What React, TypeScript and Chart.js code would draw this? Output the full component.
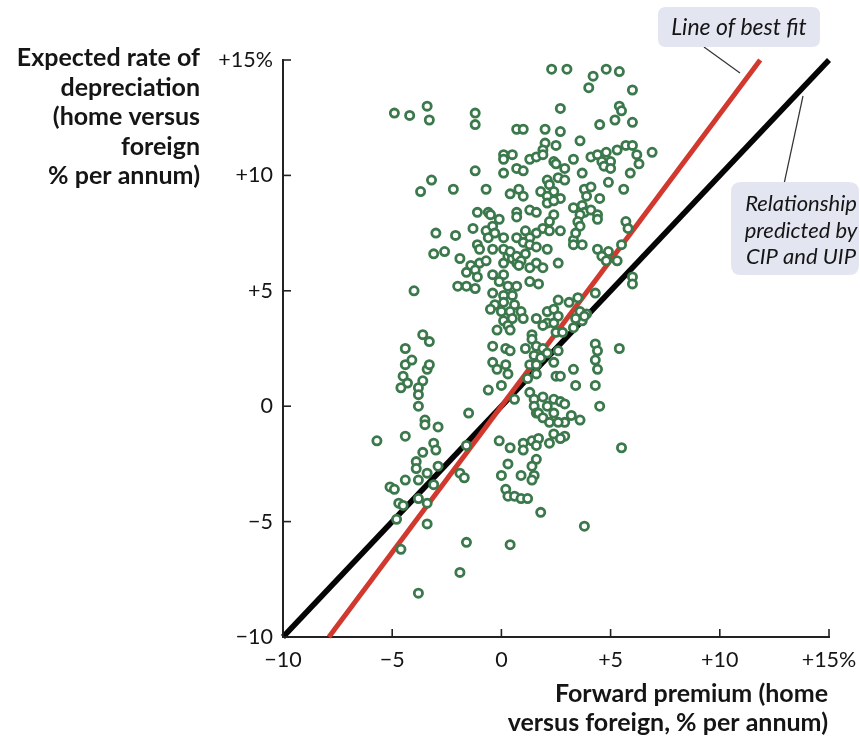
import { useEffect, useRef } from "react";
import { Chart, registerables } from "chart.js";

Chart.register(...registerables);

// ---------- data ----------
const tickValues = [-10, -5, 0, 5, 10, 15];
const xTickLabels = ["−10", "−5", "0", "+5", "+10", "+15%"];
const yTickLabels = ["−10", "−5", "0", "+5", "+10", "+15%"];
const yTitleLines = ["Expected rate of", "depreciation", "(home versus", "foreign", "% per annum)"];
const xTitleLines = ["Forward premium (home", "versus foreign, % per annum)"];
const bestFitLabel = "Line of best fit";
const parityLabelLines = ["Relationship", "predicted by", "CIP and UIP"];

// line of best fit and the CIP/UIP 45-degree relationship
const bestFitX = [-7.9, 11.85];
const bestFitY = [-10, 15];
const parityX = [-10, 15];
const parityY = [-10, 15];

// observations: [forward premium, expected depreciation] (% per annum)
const observations: [number, number][] = [
  [2.3, 14.6], [3.0, 14.6], [4.8, 14.6], [5.4, 14.5], [4.2, 14.3], [4.0, 13.8], [6.0, 13.7],
  [-4.9, 12.7], [-4.2, 12.6], [-3.4, 13.0], [-3.3, 12.4], [-1.2, 12.7], [-1.2, 12.2], [0.7, 12.0],
  [0.1, 10.9], [0.5, 10.9], [0.1, 10.7], [-1.2, 10.2], [0.1, 10.1], [0.7, 10.3], [-3.2, 9.8],
  [-3.7, 9.3], [-2.2, 9.4], [-0.7, 9.4], [0.4, 9.2],
  [2.7, 12.9], [5.4, 13.0], [5.5, 12.8], [4.5, 12.2], [5.2, 12.4], [6.0, 12.3], [1.0, 12.0],
  [2.0, 12.0], [2.7, 11.9], [2.0, 11.4], [2.5, 11.3], [1.9, 11.1], [3.6, 11.5],
  [1.3, 10.7], [1.6, 10.8], [1.9, 10.9], [2.4, 10.6], [2.5, 10.5], [2.9, 10.3], [3.3, 10.7],
  [4.1, 10.8], [4.4, 10.9], [4.8, 11.0], [5.3, 11.1], [5.7, 11.3], [6.0, 11.3], [6.2, 10.9],
  [6.9, 11.0], [4.6, 10.6], [5.0, 10.6], [4.7, 10.4], [5.0, 10.3], [6.3, 10.5], [5.9, 10.1],
  [3.7, 10.1], [1.0, 10.2], [2.1, 9.8], [2.6, 9.9], [2.9, 9.8], [2.2, 9.6], [4.9, 9.7],
  [5.6, 9.4], [3.8, 9.4], [4.1, 9.5], [0.8, 9.4], [1.8, 9.3], [2.4, 9.3],
  [-1.1, 8.4], [-0.6, 8.4], [-0.5, 8.3], [-0.1, 8.1], [0.7, 8.4], [0.7, 8.2], [-3.0, 7.5],
  [-2.1, 7.4], [-1.3, 7.7], [-0.7, 7.6], [-0.4, 7.8], [-0.6, 7.3], [-0.3, 7.5], [0.1, 7.3],
  [0.7, 7.3], [-1.1, 7.0], [-1.0, 6.8], [-0.4, 6.8], [0.1, 6.8], [-3.1, 6.6], [-2.6, 6.7],
  [-1.9, 6.4], [-1.4, 6.1], [-1.0, 6.2], [-0.7, 6.3], [-1.6, 5.8], [-1.2, 5.9], [-1.1, 5.6],
  [0.1, 6.2], [0.3, 6.5], [0.5, 6.4], [0.7, 6.2], [-0.4, 5.7], [0.1, 5.7], [-0.1, 5.4],
  [-2.0, 5.2], [-1.6, 5.2], [-1.2, 5.1], [-4.0, 5.0], [0.3, 5.2], [0.7, 5.2], [-0.4, 4.9],
  [0.1, 4.8], [0.5, 4.8], [-0.3, 4.4], [0.1, 4.5], [0.6, 4.4], [-0.5, 4.2], [0.0, 4.1],
  [0.4, 4.1], [0.1, 3.7], [0.5, 3.8],
  [1.0, 9.1], [2.1, 9.1], [2.7, 9.0], [2.1, 8.8], [2.4, 8.9], [3.9, 9.1], [4.5, 9.0],
  [1.3, 8.5], [1.6, 8.4], [2.4, 8.3], [3.3, 8.6], [3.7, 8.7], [3.8, 8.4], [3.6, 8.3],
  [4.1, 8.5], [4.4, 8.3], [4.4, 8.1], [3.5, 8.0], [3.6, 7.8], [2.2, 8.0], [1.9, 7.7],
  [2.2, 7.6], [2.7, 7.6], [1.6, 7.5], [1.1, 7.6], [1.3, 7.3], [1.0, 7.1], [1.3, 7.0],
  [1.6, 6.9], [2.1, 6.8], [3.3, 7.2], [3.3, 7.0], [3.7, 7.0], [3.4, 7.5], [0.4, 6.7],
  [0.7, 6.5], [1.1, 6.6], [0.9, 6.3], [1.6, 6.2], [1.9, 6.0], [1.3, 6.0], [0.8, 6.1],
  [2.6, 6.2], [4.4, 6.8], [4.9, 6.7], [4.6, 6.5], [4.8, 6.3], [5.3, 6.3], [5.7, 8.0],
  [5.8, 7.7], [5.5, 7.0], [1.3, 5.4], [1.7, 5.3], [6.0, 5.6], [6.0, 5.3], [4.3, 4.9],
  [2.6, 4.6], [3.1, 4.5], [3.5, 4.7], [0.9, 4.1], [2.1, 4.1], [2.4, 4.2], [2.6, 3.9],
  [3.6, 4.1], [3.9, 4.0], [1.0, 3.8], [1.6, 3.8], [2.1, 3.6], [3.7, 3.7],
  [-3.6, 3.1], [-3.3, 2.8], [-4.4, 2.5], [-0.4, 2.6], [0.2, 2.5], [0.4, 2.4], [-4.4, 1.8],
  [-4.1, 2.0], [-3.4, 1.6], [-3.3, 1.8], [-4.5, 1.3], [-4.3, 1.0], [-3.6, 1.1], [-4.6, 0.8],
  [-3.8, 0.8], [-3.8, 0.5], [-0.4, 1.9], [-0.2, 1.6], [0.2, 1.8], [0.3, 1.4], [-0.6, 0.7],
  [0.0, 0.9], [0.6, 0.3], [-3.8, 0.0], [-1.5, -0.3], [-3.5, -0.6], [-3.5, -0.8], [-2.9, -0.9],
  [-5.7, -1.5], [-4.4, -1.3], [-3.1, -1.6], [-3.0, -1.9], [-3.6, -2.0], [-1.6, -1.7],
  [-0.1, -1.5], [0.4, -1.8], [0.3, 3.5], [0.4, 3.3], [-0.2, 3.3],
  [1.9, 3.5], [2.4, 3.6], [2.5, 3.2], [2.8, 3.2], [3.3, 3.4], [3.4, 3.8], [3.8, 3.9],
  [1.4, 3.1], [1.4, 2.9], [1.1, 2.5], [1.6, 2.6], [1.9, 2.5], [1.5, 2.2], [1.8, 2.1],
  [2.1, 2.3], [2.6, 2.4], [2.4, 1.9], [1.3, 1.8], [1.6, 1.8], [1.2, 1.2], [1.6, 1.4],
  [2.5, 1.3], [2.7, 1.3], [3.3, 1.6], [3.4, 0.9], [4.3, 2.7], [4.4, 2.4], [4.3, 2.0],
  [4.4, 1.6], [4.3, 0.9], [5.4, 2.5], [4.5, 0.0], [1.3, 0.6], [1.5, 0.3], [1.9, 0.4],
  [2.4, 0.3], [2.7, 0.2], [2.9, 0.1], [1.5, 0.0], [1.6, -0.3], [2.1, 0.0], [1.7, -0.3],
  [2.4, -0.3], [1.9, -0.5], [2.9, -0.7], [3.2, -0.4], [3.6, -0.6], [2.6, -0.7], [2.2, -0.7],
  [1.0, -1.6], [1.4, -1.5], [1.7, -1.4], [2.4, -1.2], [2.9, -1.3], [2.2, -1.6], [2.7, -1.4],
  [5.5, -1.8],
  [-3.9, -2.4], [-3.9, -2.7], [-3.4, -2.9], [-2.9, -2.6], [-5.1, -3.5], [-4.9, -3.6],
  [-4.4, -3.2], [-3.8, -3.2], [-3.1, -3.4], [-1.9, -2.9], [-1.7, -3.1], [-4.7, -4.2],
  [-4.5, -4.3], [-3.8, -4.0], [-3.4, -4.2], [-4.8, -4.9], [-3.4, -5.1], [-4.6, -6.2],
  [-1.6, -5.9], [-1.9, -7.2], [-3.8, -8.1], [0.3, -2.5], [0.0, -3.0], [0.2, -3.6],
  [0.3, -3.9], [0.6, -3.9], [0.4, -6.0],
  [1.0, -1.9], [1.6, -1.7], [1.6, -2.3], [1.4, -2.6], [0.9, -3.0], [1.5, -3.0], [1.4, -3.2],
  [0.9, -4.0], [1.2, -4.0], [1.8, -4.6], [3.8, -5.2],
];

// ---------- styles ----------
const FONT = "Lato";
const POINT_COLOR = "#3b784b";
const BEST_FIT_COLOR = "#d1392e";
const PARITY_COLOR = "#050505";
const BOX_COLOR = "#e3e5f1";
const TEXT_COLOR = "#151515";

function roundRect(ctx: CanvasRenderingContext2D, x: number, y: number, w: number, h: number, r: number) {
  ctx.beginPath();
  ctx.moveTo(x + r, y);
  ctx.lineTo(x + w - r, y);
  ctx.quadraticCurveTo(x + w, y, x + w, y + r);
  ctx.lineTo(x + w, y + h - r);
  ctx.quadraticCurveTo(x + w, y + h, x + w - r, y + h);
  ctx.lineTo(x + r, y + h);
  ctx.quadraticCurveTo(x, y + h, x, y + h - r);
  ctx.lineTo(x, y + r);
  ctx.quadraticCurveTo(x, y, x + r, y);
  ctx.closePath();
}

const decorPlugin = {
  id: "decor",
  afterDraw(chart: any) {
    const { ctx, chartArea: a, scales } = chart;
    const xs = scales.x;
    const ys = scales.y;
    ctx.save();
    // inward tick marks
    ctx.strokeStyle = "#222";
    ctx.lineWidth = 1.6;
    tickValues.forEach((v) => {
      const py = ys.getPixelForValue(v);
      ctx.beginPath();
      ctx.moveTo(a.left, py);
      ctx.lineTo(a.left + 8, py);
      ctx.stroke();
      const px = xs.getPixelForValue(v);
      ctx.beginPath();
      ctx.moveTo(px, a.bottom);
      ctx.lineTo(px, a.bottom - 8);
      ctx.stroke();
    });

    // axis titles
    ctx.fillStyle = TEXT_COLOR;
    ctx.font = `bold 25px ${FONT}`;
    ctx.textAlign = "right";
    ctx.textBaseline = "middle";
    yTitleLines.forEach((t, i) => ctx.fillText(t, 200, 58 + i * 29.6));
    xTitleLines.forEach((t, i) => ctx.fillText(t, 828, 694 + i * 29));

    // leader lines
    ctx.strokeStyle = "#333";
    ctx.lineWidth = 1.2;
    ctx.beginPath();
    ctx.moveTo(704, 47);
    ctx.lineTo(740, 73);
    ctx.stroke();
    ctx.beginPath();
    ctx.moveTo(803, 96);
    ctx.lineTo(784, 184);
    ctx.stroke();

    // annotation boxes
    ctx.fillStyle = BOX_COLOR;
    roundRect(ctx, 658, 7, 162, 40, 8);
    ctx.fill();
    roundRect(ctx, 731, 182, 128, 93, 10);
    ctx.fill();

    ctx.fillStyle = TEXT_COLOR;
    ctx.textAlign = "center";
    ctx.font = `italic 23px ${FONT}`;
    ctx.fillText(bestFitLabel, 739, 28);
    ctx.font = `italic 22px ${FONT}`;
    parityLabelLines.forEach((t, i) => ctx.fillText(t, 801, 204 + i * 26.5));
    ctx.restore();
  },
};

export default function App() {
  const ref = useRef<HTMLCanvasElement | null>(null);

  useEffect(() => {
    if (!ref.current) return;
    const tickCb = (labels: string[]) => (v: any) => {
      const i = tickValues.indexOf(Number(v));
      return i >= 0 ? labels[i] : "";
    };
    const chart = new Chart(ref.current, {
      type: "scatter",
      data: {
        datasets: [
          {
            label: "Observations",
            data: observations.map(([x, y]) => ({ x, y })),
            pointRadius: 4.1,
            pointBorderWidth: 2.8,
            pointBorderColor: POINT_COLOR,
            pointBackgroundColor: "#ffffff",
            borderColor: POINT_COLOR,
            backgroundColor: "#ffffff",
            order: 0,
          },
          {
            label: "Line of best fit",
            data: bestFitX.map((x, i) => ({ x, y: bestFitY[i] })),
            showLine: true,
            pointRadius: 0,
            borderColor: BEST_FIT_COLOR,
            borderWidth: 5,
            borderCapStyle: "butt",
            clip: false,
            order: 1,
          } as any,
          {
            label: "CIP and UIP",
            data: parityX.map((x, i) => ({ x, y: parityY[i] })),
            showLine: true,
            pointRadius: 0,
            borderColor: PARITY_COLOR,
            borderWidth: 5.5,
            borderCapStyle: "butt",
            clip: false,
            order: 2,
          } as any,
        ],
      },
      options: {
        animation: false,
        responsive: false,
        events: [],
        layout: { padding: { left: 0, right: 31, top: 60, bottom: 61 } },
        plugins: { legend: { display: false }, tooltip: { enabled: false } },
        scales: {
          x: {
            type: "linear",
            min: -10,
            max: 15,
            grid: { display: false, drawTicks: false },
            border: { display: true, color: "#222", width: 2 },
            ticks: {
              stepSize: 5,
              color: TEXT_COLOR,
              padding: 10,
              font: { family: FONT, size: 21.5 },
              callback: tickCb(xTickLabels),
            },
            afterFit: (s: any) => {
              s.height = 40;
              s.paddingLeft = 0;
              s.paddingRight = 0;
            },
          },
          y: {
            type: "linear",
            min: -10,
            max: 15,
            grid: { display: false, drawTicks: false },
            border: { display: true, color: "#222", width: 2 },
            ticks: {
              stepSize: 5,
              color: TEXT_COLOR,
              padding: 10,
              font: { family: FONT, size: 21.5 },
              callback: tickCb(yTickLabels),
            },
            afterFit: (s: any) => {
              s.width = 283;
              s.paddingTop = 0;
              s.paddingBottom = 0;
            },
          },
        },
      } as any,
      plugins: [decorPlugin],
    });
    return () => chart.destroy();
  }, []);

  return (
    <div style={{ position: "absolute", left: 0, top: 0, width: 860, height: 738, background: "#fff" }}>
      <canvas ref={ref} width={860} height={738} style={{ display: "block", width: 860, height: 738 }} />
    </div>
  );
}
